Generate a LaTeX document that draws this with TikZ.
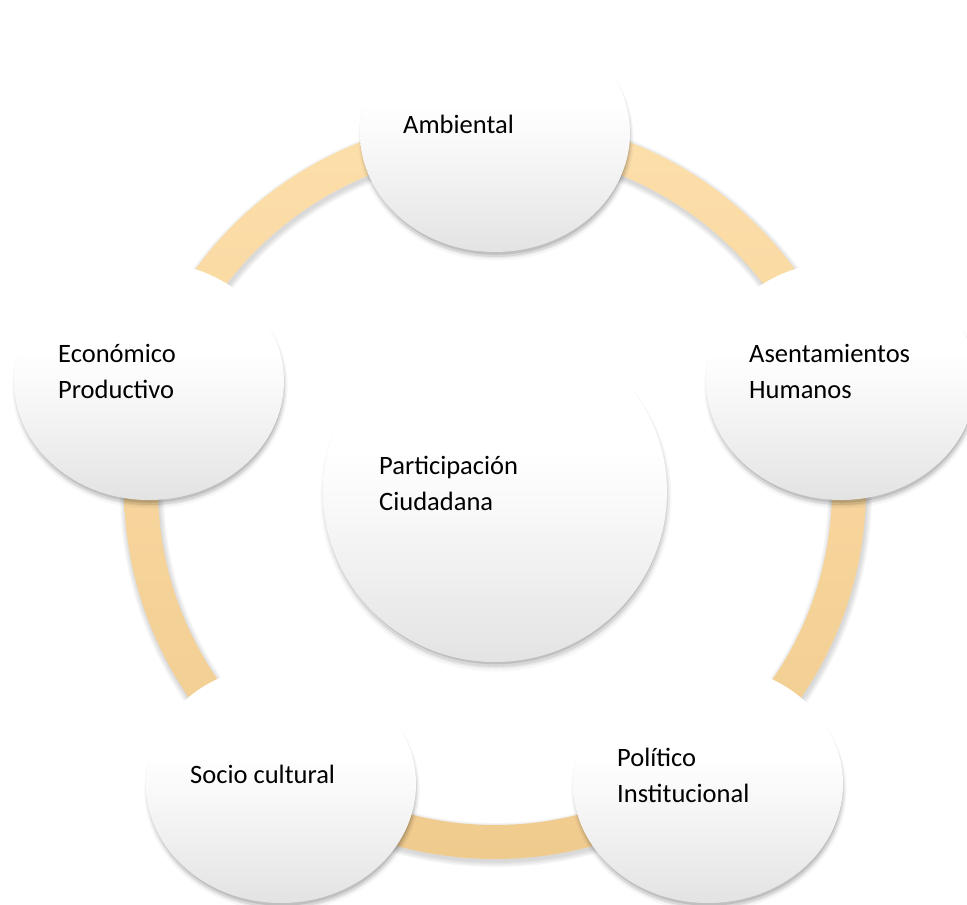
\documentclass[tikz,border=0pt]{standalone}
\usepackage{fontspec}
\setmainfont{Carlito}
\usetikzlibrary{shapes.geometric,shadows}
\definecolor{ringtop}{HTML}{FDDFAA}
\definecolor{ringbot}{HTML}{F0CB8E}
\definecolor{cbot}{HTML}{E3E3E3}
\definecolor{cmid}{HTML}{F8F8F8}
\pgfdeclareverticalshading{circgrad}{100bp}{color(0bp)=(cbot); color(25bp)=(cbot); color(47bp)=(cmid); color(56bp)=(white); color(100bp)=(white)}
\tikzset{
  softshadow/.style={
    general shadow={fill=black, opacity=0.11, shadow xshift=1pt, shadow yshift=-4pt, shadow scale=0.99},
    general shadow={fill=black, opacity=0.08, shadow xshift=1pt, shadow yshift=-5pt, shadow scale=1.00},
    general shadow={fill=black, opacity=0.05, shadow xshift=1pt, shadow yshift=-5pt, shadow scale=1.01},
    general shadow={fill=black, opacity=0.03, shadow xshift=1pt, shadow yshift=-6pt, shadow scale=1.02}},
  bubble/.style={ellipse, shading=circgrad, inner sep=0pt, minimum width=270pt, minimum height=238pt, softshadow},
  bigbubble/.style={ellipse, shading=circgrad, inner sep=0pt, minimum width=344pt, minimum height=340pt, softshadow},
  txt/.style={font=\fontsize{26.5}{36}\selectfont, align=left, inner sep=0pt, text=black}
}
\begin{document}
\begin{tikzpicture}[x=1pt, y=-1pt]
\useasboundingbox (0,0) rectangle (967,905);
\coordinate (ctr) at (495,488);
% ring shadow
\foreach \w in {35,38,41,44} {
  \draw[black, opacity=0.04, line width=\w pt] ([shift={(1,3)}]ctr) circle [radius=354];
}
% ring
\shade[top color=ringtop, bottom color=ringbot, even odd rule] (ctr) circle [radius=371] (ctr) circle [radius=337];
% bubbles
\node[bubble] (amb) at (495,133) {};
\node[bubble] (ase) at (841,381) {};
\node[bubble] (pol) at (708,784) {};
\node[bubble] (soc) at (281,784) {};
\node[bubble] (eco) at (149,381) {};
\node[bigbubble] (par) at (495,492) {};
% texts (base anchor = baseline of the last line)
\node[txt, anchor=base west] (tamb) at (403,133) {Ambiental};
\node[txt, anchor=base west] (tase) at (749,398) {Asentamientos\\Humanos};
\node[txt, anchor=base west] (tpol) at (617,802) {Político\\Institucional};
\node[txt, anchor=base west] (tsoc) at (190,783) {Socio cultural};
\node[txt, anchor=base west] (teco) at (58,398) {Económico\\Productivo};
\node[txt, anchor=base west] (tpar) at (379,510) {Participación\\Ciudadana};
\end{tikzpicture}
\end{document}
